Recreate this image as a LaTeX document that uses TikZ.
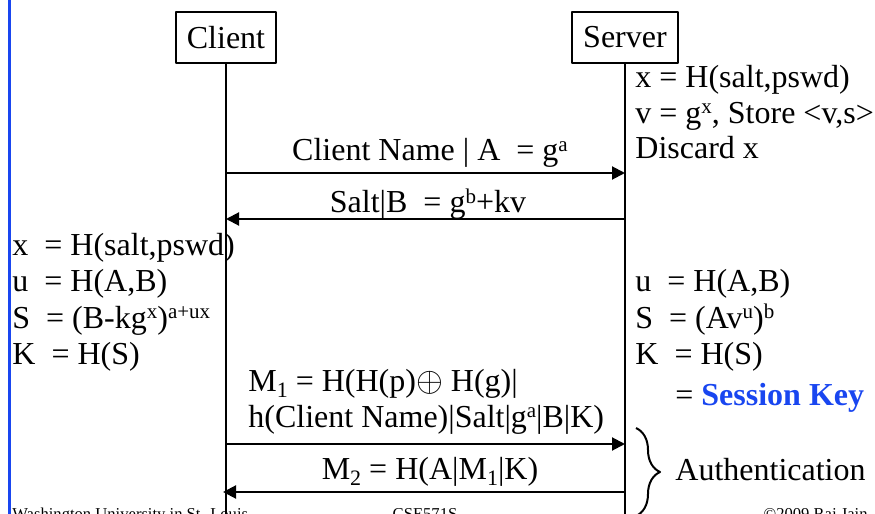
\documentclass[tikz,border=0pt]{standalone}
\usepackage{fontspec}
\setmainfont{Liberation Serif}
\usetikzlibrary{arrows.meta,decorations.pathreplacing}
\definecolor{slideblue}{RGB}{25,70,240}
\newcommand{\hi}[1]{\raisebox{4.6pt}{\fontsize{10.5}{11}\selectfont #1}}
\newcommand{\lo}[1]{\raisebox{-3pt}{\fontsize{11}{11}\selectfont #1}}
\tikzset{
  party/.style={draw, line width=1pt, inner xsep=5.5pt, inner ysep=0pt, minimum height=25.5pt, font=\fontsize{16}{18}\selectfont},
  life/.style={line width=1pt},
  msg/.style={line width=1pt, -{Triangle[length=6.5pt,width=6.5pt]}},
  txt/.style={anchor=base west, inner sep=0pt, font=\fontsize{16}{18}\selectfont},
  lbl/.style={anchor=base, inner sep=0pt, font=\fontsize{16}{18}\selectfont},
  foot/.style={inner sep=0pt, font=\fontsize{8.3}{10}\selectfont},
}
\begin{document}
\begin{tikzpicture}[x=0.5pt,y=-0.5pt, line join=round]
\useasboundingbox (0,0) rectangle (875,514);
\draw[slideblue, line width=1.5pt] (9.5,0) -- (9.5,514);
% parties and lifelines
\node[party] (client) at (226,37.5) {Client};
\node[party] (server) at (625,37.5) {Server};
\coordinate (cend) at (226,530);
\coordinate (send) at (625,530);
\draw[life] (client) -- (cend);
\draw[life] (server) -- (send);
% message ends
\coordinate (c1) at (226,173); \coordinate (s1) at (625,173);
\coordinate (c2) at (226,219); \coordinate (s2) at (625,219);
\coordinate (c3) at (226,444); \coordinate (s3) at (625,444);
\coordinate (c4) at (223,492); \coordinate (s4) at (625,492);
\draw[msg] (c1) -- (s1);
\draw[msg] (s2) -- (c2);
\draw[msg] (c3) -- (s3);
\draw[msg] (s4) -- (c4);
\node[lbl] (m1) at (430,161) {Client Name | A~ = g\hi{a}};
\node[lbl] (m2) at (428,213) {Salt|B~ = g\hi{b}+kv};
\node[txt] (m3a) at (248,391) {M\lo{1} = H(H(p)$\oplus$ H(g)|};
\node[txt] (m3b) at (248,427) {h(Client Name)|Salt|g\hi{a}|B|K)};
\node[lbl] (m4) at (430,479) {M\lo{2} = H(A|M\lo{1}|K)};
% server side
\node[txt] (sx) at (635,88) {x = H(salt,pswd)};
\node[txt] (sv) at (635,123) {v = g\hi{x}, Store <v,s>};
\node[txt] (sd) at (635,158) {Discard x};
\node[txt] (su) at (635,292) {u~ = H(A,B)};
\node[txt] (ss) at (635,328) {S~ = (Av\hi{u})\hi{b}};
\node[txt] (sk) at (635,364) {K~ = H(S)};
\node[txt] (skey) at (675,405) {= \textcolor{slideblue}{\textbf{Session Key}}};
% client side
\node[txt] (cx) at (12,256) {x~ = H(salt,pswd)};
\node[txt] (cu) at (12,292) {u~ = H(A,B)};
\node[txt] (cs) at (12,328) {S~ = (B-kg\hi{x})\hi{a+ux}};
\node[txt] (ck) at (12,364) {K~ = H(S)};
% authentication
\draw[decorate, decoration={brace, amplitude=12pt}, line width=1pt] (636,428) -- (636,516);
\node[txt] (auth) at (675,480) {Authentication};
% footer
\node[foot, anchor=base west] (fl) at (12,519) {Washington University in St. Louis};
\node[foot, anchor=base] (fc) at (425,519) {CSE571S};
\node[foot, anchor=base east] (fr) at (868,519) {©2009 Raj Jain};
\end{tikzpicture}
\end{document}
